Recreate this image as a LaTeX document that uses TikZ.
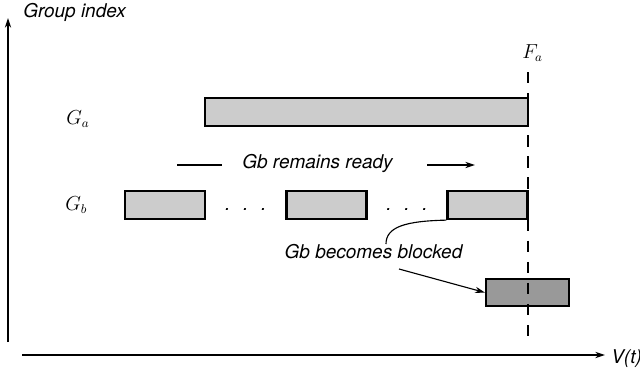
\documentclass[tikz,border=0pt]{standalone}
\usepackage{fontspec}
\setsansfont{TeX Gyre Heros}
\usetikzlibrary{arrows.meta, calc, positioning}

\begin{document}
\begin{tikzpicture}[x=0.025cm, y=-0.025cm,
    txt/.style={font=\sffamily\itshape\fontsize{13.5}{16}\selectfont, inner sep=0pt},
    lbl/.style={font=\fontsize{13.5}{16}\selectfont, inner sep=0pt},
    bar/.style={draw, line width=1.6pt, fill=black!20, inner sep=0pt, minimum height=0.7cm},
    tip/.style={-{Stealth[length=7pt, width=4.5pt]}}]
    \useasboundingbox (0,0) rectangle (640,377);

    % axes
    \coordinate (y0) at (8,342);
    \coordinate (y1) at (8,18);
    \coordinate (x0) at (22,355);
    \coordinate (x1) at (605,355);
    \draw[tip, line width=0.8pt] (y0) -- (y1);
    \draw[tip, line width=0.8pt] (x0) -- (x1);
    \node[txt, anchor=base west] (ylab) at (23,17) {Group index};
    \node[txt, anchor=base west] (xlab) at (611,363) {V(t)};

    % groups
    \node[lbl, anchor=base west] (galab) at (66,124) {$G_a$};
    \node[lbl, anchor=base west] (gblab) at (65,210) {$G_b$};

    \node[bar, minimum width=8.075cm] (ga) at (366.5,112) {};
    \node[bar, minimum width=2cm] (gb1) at (165,205) {};
    \node[bar, minimum width=2cm] (gb2) at (326.5,205) {};
    \node[bar, minimum width=2cm] (gb3) at (487.5,205) {};
    \node[bar, minimum width=2.075cm, minimum height=0.675cm, fill=black!40] (gbk) at (527.5,292.5) {};

    \node[txt, anchor=base] (dots1) at ($(gb1.east)!0.5!(gb2.west) + (0,5)$) {.\hspace{9pt}.\hspace{9pt}.};
    \node[txt, anchor=base] (dots2) at ($(gb2.east)!0.5!(gb3.west) + (0,5)$) {.\hspace{9pt}.\hspace{9pt}.};

    % finish time
    \node[lbl, anchor=base west] (fa) at (522,58) {$F_a$};
    \coordinate (ftop) at (528,72);
    \coordinate (fbot) at (528,343);
    \draw[line width=0.8pt, dash pattern=on 8pt off 7pt] (ftop) -- (fbot);

    % ready
    \node[txt, anchor=base] (ready) at (317.5,168) {Gb remains ready};
    \coordinate (r0) at (177,165);
    \coordinate (r1) at (222,165);
    \coordinate (r2) at (427,165);
    \coordinate (r3) at (475,165);
    \draw[line width=0.8pt] (r0) -- (r1);
    \draw[tip, line width=0.8pt] (r2) -- (r3);

    % blocked
    \node[txt, anchor=base] (blocked) at (373.5,258) {Gb becomes blocked};
    \coordinate (b0) at (386,244);
    \coordinate (b1) at (399,269);
    \draw[line width=0.8pt] (gb3.south west) .. controls (405,221) and (386,227) .. (b0);
    \draw[tip, line width=0.8pt] (b1) -- (gbk.west);
\end{tikzpicture}
\end{document}
